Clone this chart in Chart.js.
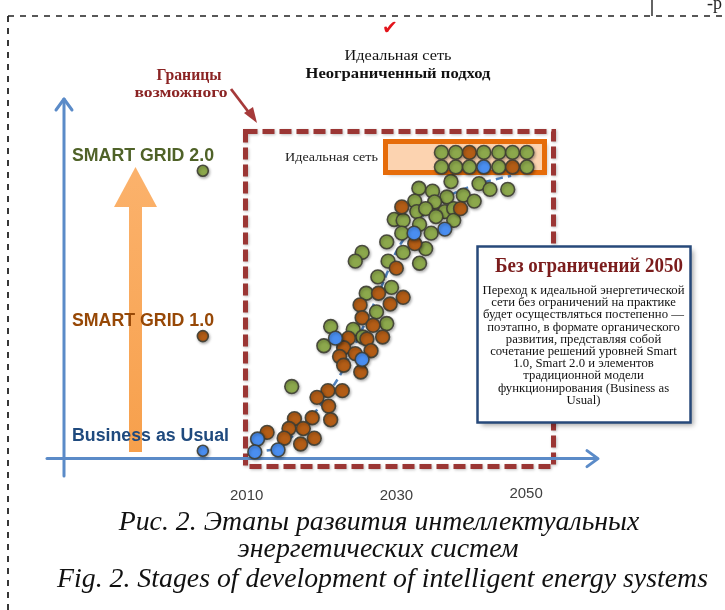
<!DOCTYPE html>
<html><head><meta charset="utf-8">
<script src="https://cdn.jsdelivr.net/npm/chart.js@4/dist/chart.umd.min.js"></script>
<style>html,body{margin:0;padding:0;background:#fff;}#wrap{position:relative;width:725px;height:610px;}</style>
</head><body><div id="wrap"><canvas id="c"></canvas></div>
<script>
// ---- data (x = year, y = development level) ----
const levelNames = ["Business as Usual", "SMART GRID 1.0", "SMART GRID 2.0"];
const levelValues = [2.7, 42, 98.7];
const levelMarkerYear = 2003;
const xTickLabels = ["2010", "2030", "2050"];

const idealYears = [2037.9, 2040.0, 2042.0, 2044.1, 2046.3, 2048.3, 2050.4];
const idealLevels = [105, 100];
const idealRow1 = ["G", "G", "O", "G", "G", "G", "G"];
const idealRow2 = ["G", "G", "G", "B", "G", "O", "G"];

const greenPoints = [
  [2039.3,95],[2043.4,94.3],[2045.0,92.3],[2047.6,92.3],[2034.6,92.7],[2036.6,91.7],[2038.7,89.7],
  [2041.1,90.3],[2042.7,88.3],[2034.0,88.3],[2036.9,88],[2034.3,84.7],[2035.6,85.7],[2038.4,84.7],
  [2039.7,85.7],[2037.1,83],[2039.7,81.7],[2031.0,82],[2032.3,81.7],[2034.7,80.3],[2032.1,77.3],
  [2036.4,77.3],[2029.9,74.3],[2035.6,72],[2032.3,70.7],[2026.3,70.7],[2025.3,67.7],[2030.1,67.7],
  [2034.7,67],[2028.6,62.3],[2030.6,58.7],[2026.9,56.7],[2028.4,50.3],[2029.9,46.3],[2021.7,45.3],
  [2025.0,44.3],[2026.4,41.7],[2020.7,38.7],[2016.0,24.7]
];
const orangePoints = [
  [2032.1,86.3],[2040.7,85.7],[2034.0,73.7],[2031.3,65.3],[2028.7,56.7],[2032.3,55.3],[2026.0,52.7],
  [2030.4,53],[2026.3,48.3],[2027.9,45.7],[2024.3,41.3],[2027.0,41],[2029.3,41.7],[2023.6,38],
  [2027.6,37],[2025.3,36],[2023.0,35],[2023.6,32],[2026.1,29.7],[2021.3,23.3],[2023.4,23.3],
  [2019.7,21],[2021.4,18],[2021.7,13.3],[2019.0,14],[2016.4,13.7],[2015.6,10.3],[2017.7,10.3],
  [2012.4,9],[2014.9,7],[2019.3,7],[2017.3,5]
];
const bluePoints = [
  [2033.9,77.3],[2038.4,78.7],[2022.4,41.3],[2026.3,34],[2011.0,6.7],[2014.0,3],[2010.6,2.3]
];
const trendPoints = [
  [2010.6,2.3],[2014.1,3.7],[2018.9,14.3],[2023.1,28.7],[2026.3,44.3],[2028.9,57.7],
  [2031.3,71],[2033.1,77.7],[2037.0,87.7],[2041.0,92.3],[2045.0,95.3],[2048.1,97]
];

const infoTitle = "Без ограничений 2050";
const infoLines = [
  "Переход к идеальной энергетической",
  "сети без ограничений на практике",
  "будет осуществляться постепенно —",
  "поэтапно, в формате органического",
  "развития, представляя собой",
  "сочетание решений уровней Smart",
  "1.0, Smart 2.0 и элементов",
  "традиционной модели",
  "функционирования (Business as",
  "Usual)"
];
const captionLines = [
  "Рис. 2. Этапы развития интеллектуальных",
  "энергетических систем",
  "Fig. 2. Stages of development of intelligent energy systems"
];

// ---- styles ----
const COL = { G: "#8ca84c", O: "#b35d16", B: "#4a8ef0" };
const DOT_BORDER = "rgba(62,62,52,0.9)";

// scale geometry (year 2010 at px 248, 7 px / year; level 0 at px 463, 3 px / level)
const W = 725, H = 610;
const X2010 = 248, PXY = 7, YBASE = 463, PXL = 3;

const toXY = p => ({ x: p[0], y: p[1] });
const idealData = [], idealColors = [];
[idealRow1, idealRow2].forEach((row, r) => row.forEach((c, i) => {
  idealData.push({ x: idealYears[i], y: idealLevels[r] });
  idealColors.push(COL[c]);
}));
const markerData = levelValues.map(v => ({ x: levelMarkerYear, y: v }));

function txt(ctx, s, x, y, font, color, align, w, sxFixed) {
  ctx.save();
  ctx.font = font; ctx.fillStyle = color; ctx.textBaseline = "alphabetic";
  const m = ctx.measureText(s).width;
  const sx = sxFixed || (w ? w / m : 1);
  ctx.translate(x, y); ctx.scale(sx, 1);
  ctx.textAlign = align; ctx.fillText(s, 0, 0);
  ctx.restore();
  return m;
}

const deco = {
  id: "deco",
  beforeDatasetsDraw(chart) {
    const ctx = chart.ctx, xs = chart.scales.x, ys = chart.scales.y;
    ctx.save();
    // page border (dashed)
    ctx.strokeStyle = "#222"; ctx.lineWidth = 1.8; ctx.setLineDash([6, 6]);
    ctx.beginPath(); ctx.moveTo(8, 16); ctx.lineTo(8, H); ctx.stroke();
    ctx.lineWidth = 1.5;
    ctx.beginPath(); ctx.moveTo(8, 16); ctx.lineTo(W, 16); ctx.stroke();
    ctx.setLineDash([]); ctx.lineWidth = 1.4;
    ctx.beginPath(); ctx.moveTo(652, 0); ctx.lineTo(652, 16); ctx.stroke();
    txt(ctx, "-р", 722, 9, "18px 'Liberation Serif'", "#222", "right");

    // header texts
    txt(ctx, "✔", 390, 34, "bold 19px 'DejaVu Sans'", "#e3141b", "center");
    txt(ctx, "Идеальная сеть", 398, 60, "14.5px 'Liberation Serif'", "#111", "center", 107);
    txt(ctx, "Неограниченный подход", 398, 78, "bold 14.5px 'Liberation Serif'", "#111", "center", 185);
    txt(ctx, "Границы", 189, 80, "bold 16px 'Liberation Serif'", "#8b2424", "center", 65);
    txt(ctx, "возможного", 181, 97, "bold 14px 'Liberation Serif'", "#8b2424", "center", 93);

    // pointer arrow to the boundary frame
    ctx.strokeStyle = "#a63a3a"; ctx.fillStyle = "#a63a3a"; ctx.lineWidth = 2.8;
    ctx.beginPath(); ctx.moveTo(231, 89); ctx.lineTo(250, 114); ctx.stroke();
    ctx.beginPath(); ctx.moveTo(257, 123); ctx.lineTo(244, 113); ctx.lineTo(253, 107); ctx.closePath(); ctx.fill();

    // red dashed boundary frame
    ctx.save();
    ctx.shadowColor = "rgba(0,0,0,0.25)"; ctx.shadowBlur = 3; ctx.shadowOffsetX = 1; ctx.shadowOffsetY = 1;
    ctx.strokeStyle = "#9b3634"; ctx.lineWidth = 5; ctx.setLineDash([12, 5]);
    ctx.strokeRect(245.5, 131.5, 308, 335);
    ctx.restore();

    // orange "ideal grid" box
    ctx.save();
    ctx.shadowColor = "rgba(0,0,0,0.3)"; ctx.shadowBlur = 4; ctx.shadowOffsetX = 2; ctx.shadowOffsetY = 2;
    ctx.fillStyle = "#fcd3b0"; ctx.fillRect(385.5, 141.5, 159, 31);
    ctx.restore();
    ctx.strokeStyle = "#e66c0a"; ctx.lineWidth = 5; ctx.strokeRect(385.5, 141.5, 159, 31);
    txt(ctx, "Идеальная сеть", 285, 161, "13px 'Liberation Serif'", "#222", "left", 93);

    // info box
    ctx.save();
    ctx.shadowColor = "rgba(0,0,0,0.35)"; ctx.shadowBlur = 5; ctx.shadowOffsetX = 3; ctx.shadowOffsetY = 3;
    ctx.fillStyle = "#fff"; ctx.fillRect(477.5, 246.5, 213, 176);
    ctx.restore();
    ctx.strokeStyle = "#27497a"; ctx.lineWidth = 2.5; ctx.strokeRect(477.5, 246.5, 213, 176);
    txt(ctx, infoTitle, 589, 272, "bold 21px 'Liberation Serif'", "#7b1c1c", "center", 188);
    ctx.font = "13px 'Liberation Serif'";
    const sBody = 202 / ctx.measureText(infoLines[0]).width;
    infoLines.forEach((l, i) => txt(ctx, l, 583.5, 294 + i * 12.2, "13px 'Liberation Serif'", "#111", "center", 0, sBody));

    // orange vertical arrow
    const g = ctx.createLinearGradient(0, 168, 0, 452);
    g.addColorStop(0, "#fbb26c"); g.addColorStop(1, "#f7a04c");
    ctx.fillStyle = g;
    ctx.fillRect(129, 200, 13, 252);
    ctx.beginPath(); ctx.moveTo(135.5, 167); ctx.lineTo(157, 207); ctx.lineTo(114, 207); ctx.closePath(); ctx.fill();

    // level labels (left)
    const lvlColors = ["#1f4a7e", "#974806", "#4f6228"];
    const lvlWidths = [157, 142, 142];
    levelNames.forEach((n, i) => {
      txt(ctx, n, 72, ys.getPixelForValue(levelValues[i]) - 10, "bold 18px 'Liberation Sans'", lvlColors[i], "left", lvlWidths[i]);
    });

    // axes arrows
    ctx.strokeStyle = "#5b8bc8"; ctx.lineWidth = 3; ctx.lineCap = "round"; ctx.lineJoin = "round";
    const y0 = ys.getPixelForValue(0);
    ctx.beginPath(); ctx.moveTo(64, 476); ctx.lineTo(64, 99); ctx.stroke();
    ctx.beginPath(); ctx.moveTo(56, 110); ctx.lineTo(64, 99); ctx.lineTo(72, 110); ctx.stroke();
    ctx.beginPath(); ctx.moveTo(47, y0); ctx.lineTo(597, y0); ctx.stroke();
    ctx.beginPath(); ctx.moveTo(587, y0 - 8); ctx.lineTo(598, y0); ctx.lineTo(587, y0 + 8); ctx.stroke();

    // x tick labels
    const nudges = [-4, 9, 2], tickBase = [500, 500, 498];
    xTickLabels.forEach((t, i) => {
      txt(ctx, t, xs.getPixelForValue(+t) + nudges[i], tickBase[i], "15px 'Liberation Sans'", "#404040", "center");
    });

    // captions
    ctx.font = "italic 27px 'Liberation Serif'";
    const sCap = 651 / ctx.measureText(captionLines[2]).width;
    const capX = [379, 378, 382.5], capY = [530, 557, 587];
    captionLines.forEach((l, i) => txt(ctx, l, capX[i], capY[i], "italic 27px 'Liberation Serif'", "#111", "center", 0, sCap));
    ctx.restore();
  },
  beforeDatasetDraw(chart, args) {
    const ctx = chart.ctx; ctx.save();
    if (chart.data.datasets[args.index].showLine !== true) {
      ctx.shadowColor = "rgba(0,0,0,0.3)"; ctx.shadowBlur = 3; ctx.shadowOffsetX = 1; ctx.shadowOffsetY = 1.5;
    }
  },
  afterDatasetDraw(chart) { chart.ctx.restore(); }
};

const dotDs = (label, data, color, order, r) => ({
  label, data, order, backgroundColor: color, borderColor: DOT_BORDER,
  borderWidth: 1.6, pointRadius: r || 6.9, pointHoverRadius: r || 6.9
});

new Chart(document.getElementById("c"), {
  type: "scatter",
  data: {
    datasets: [
      dotDs("Ideal", idealData, idealColors, 1),
      dotDs("Business as Usual", bluePoints.map(toXY), COL.B, 2),
      dotDs("Smart Grid 2.0", greenPoints.map(toXY), COL.G, 4),
      dotDs("Smart Grid 1.0", orangePoints.map(toXY), COL.O, 3),
      dotDs("Levels", markerData, [COL.B, COL.O, COL.G], 5, 5.5),
      { label: "Trend", data: trendPoints.map(toXY), showLine: true, order: 10,
        borderColor: "#4f81bd", borderWidth: 2.5, borderDash: [7, 5], pointRadius: 0, fill: false, tension: 0.2 }
    ]
  },
  options: {
    responsive: true, maintainAspectRatio: false, animation: false,
    layout: { padding: 0 },
    plugins: { legend: { display: false }, tooltip: { enabled: false } },
    events: [],
    scales: {
      x: { type: "linear", display: false, min: 2010 - X2010 / PXY, max: 2010 + (W - X2010) / PXY },
      y: { type: "linear", display: false, min: -(H - YBASE) / PXL, max: YBASE / PXL }
    }
  },
  plugins: [deco]
});
</script></body></html>
